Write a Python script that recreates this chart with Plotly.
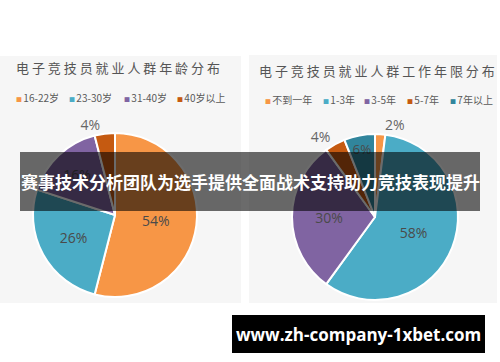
import plotly.graph_objects as go

W, H = 500, 362

# ---- data ----
age_title = "电子竞技员就业人群年龄分布"
age_labels = ["16-22岁", "23-30岁", "31-40岁", "40岁以上"]
age_values = [54, 26, 16, 4]

work_title = "电子竞技员就业人群工作年限分布"
work_labels = ["不到一年", "1-3年", "3-5年", "5-7年", "7年以上"]
work_values = [2, 58, 30, 4, 6]

banner_text = "赛事技术分析团队为选手提供全面战术支持助力竞技表现提升"
url_text = "www.zh-company-1xbet.com"

age_colors = ["#f79646", "#4bacc6", "#8064a2", "#c55a11"]
work_colors = ["#f79646", "#4bacc6", "#8064a2", "#c55a11", "#31859c"]


def px(x):
    return x / W


def py(y):
    return 1 - y / H


def spaced(s):
    return " ".join(list(s))


fig = go.Figure()

fig.add_trace(go.Pie(
    labels=age_labels, values=age_values, sort=False, direction="clockwise",
    rotation=0, marker=dict(colors=age_colors, line=dict(color="white", width=2)),
    texttemplate="%{value}%",
    textposition=["inside", "inside", "inside", "outside"],
    insidetextorientation="horizontal",
    textfont=dict(family="Open Sans", size=14, color="#4a4a4a"),
    outsidetextfont=dict(family="Open Sans", size=14, color="#666666"),
    domain=dict(x=[px(33), px(197)], y=[py(297), py(133)]),
    showlegend=False, hoverinfo="label+percent",
))

fig.add_trace(go.Pie(
    labels=work_labels, values=work_values, sort=False, direction="clockwise",
    rotation=0, marker=dict(colors=work_colors, line=dict(color="white", width=2)),
    texttemplate="%{value}%",
    textposition=["outside", "inside", "inside", "outside", "inside"],
    insidetextorientation="horizontal",
    textfont=dict(family="Open Sans", size=14, color="#4a4a4a"),
    outsidetextfont=dict(family="Open Sans", size=14, color="#666666"),
    domain=dict(x=[px(292), px(458)], y=[py(300), py(134)]),
    showlegend=False, hoverinfo="label+percent",
))

shapes = [
    dict(type="rect", xref="paper", yref="paper", x0=px(0), x1=px(241),
         y0=py(303), y1=py(56), fillcolor="#f6f6f6", line=dict(width=0), layer="below"),
    dict(type="rect", xref="paper", yref="paper", x0=px(249), x1=px(497),
         y0=py(303), y1=py(55), fillcolor="#f6f6f6", line=dict(width=0), layer="below"),
    dict(type="rect", xref="paper", yref="paper", x0=px(20), x1=px(480),
         y0=py(211), y1=py(152), fillcolor="rgba(0,0,0,0.58)", line=dict(width=0), layer="above"),
    dict(type="rect", xref="paper", yref="paper", x0=px(232), x1=px(485),
         y0=py(353), y1=py(315), fillcolor="#000000", line=dict(width=0), layer="above"),
]

annotations = [
    dict(text=spaced(age_title), x=px(14), y=py(68), xanchor="left", yanchor="middle",
         font=dict(family="Noto Sans CJK SC", size=13, color="#555555")),
    dict(text=spaced(work_title), x=px(257), y=py(70), xanchor="left", yanchor="middle",
         font=dict(family="Noto Sans CJK SC", size=13, color="#555555")),
    dict(text=banner_text, x=px(250), y=py(181), xanchor="center", yanchor="middle",
         font=dict(family="Noto Sans CJK SC", size=17, color="white", weight="bold")),
    dict(text=url_text, x=px(358), y=py(334), xanchor="center", yanchor="middle",
         font=dict(family="Open Sans", size=17, color="white", weight="bold")),
]

# legends
age_leg_x = [14, 67, 122, 175]
for xx, lab, col in zip(age_leg_x, age_labels, age_colors):
    annotations.append(dict(text=f"<span style='color:{col};font-size:6px'>■ </span>{lab}", x=px(xx), y=py(98),
                            xanchor="left", yanchor="middle",
                            font=dict(family="Noto Sans CJK SC", size=10, color="#5a5a5a")))
work_leg_x = [263, 321, 362, 405, 448]
for xx, lab, col in zip(work_leg_x, work_labels, work_colors):
    annotations.append(dict(text=f"<span style='color:{col};font-size:6px'>■ </span>{lab}", x=px(xx), y=py(100),
                            xanchor="left", yanchor="middle",
                            font=dict(family="Noto Sans CJK SC", size=10, color="#5a5a5a")))

for a in annotations:
    a.update(xref="paper", yref="paper", showarrow=False)

fig.update_layout(
    width=W, height=H, margin=dict(l=0, r=0, t=0, b=0),
    paper_bgcolor="white", plot_bgcolor="white",
    shapes=shapes, annotations=annotations,
)

fig.write_html("out.html")
